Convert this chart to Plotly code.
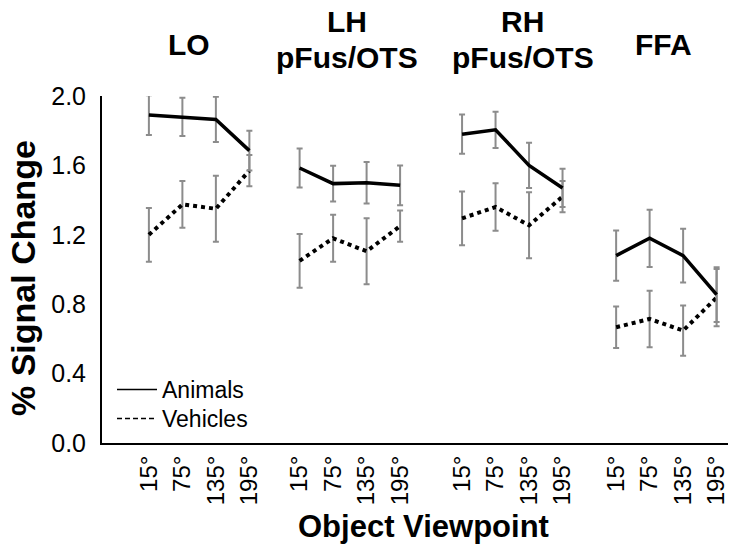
import plotly.graph_objects as go

# ---- data ----
regions = ["LO", "LH<br>pFus/OTS", "RH<br>pFus/OTS", "FFA"]
viewpoints = ["15°", "75°", "135°", "195°"]

animals_LO = [1.89, 1.88, 1.865, 1.685]
animals_LH = [1.585, 1.495, 1.50, 1.485]
animals_RH = [1.78, 1.805, 1.60, 1.47]
animals_FFA = [1.08, 1.18, 1.08, 0.855]

animals_err_LO = [0.115, 0.11, 0.13, 0.115]
animals_err_LH = [0.113, 0.103, 0.12, 0.115]
animals_err_RH = [0.113, 0.104, 0.13, 0.11]
animals_err_FFA = [0.145, 0.165, 0.155, 0.158]

vehicles_LO = [1.20, 1.375, 1.35, 1.57]
vehicles_LH = [1.05, 1.18, 1.105, 1.25]
vehicles_RH = [1.295, 1.36, 1.255, 1.42]
vehicles_FFA = [0.667, 0.715, 0.648, 0.838]

vehicles_err_LO = [0.155, 0.135, 0.19, 0.09]
vehicles_err_LH = [0.155, 0.135, 0.19, 0.09]
vehicles_err_RH = [0.155, 0.137, 0.19, 0.09]
vehicles_err_FFA = [0.12, 0.163, 0.145, 0.165]

y_ticks = [0.0, 0.4, 0.8, 1.2, 1.6, 2.0]

animals = [animals_LO, animals_LH, animals_RH, animals_FFA]
animals_err = [animals_err_LO, animals_err_LH, animals_err_RH, animals_err_FFA]
vehicles = [vehicles_LO, vehicles_LH, vehicles_RH, vehicles_FFA]
vehicles_err = [vehicles_err_LO, vehicles_err_LH, vehicles_err_RH, vehicles_err_FFA]

# ---- layout helpers ----
group_offsets = [0, 4.5, 9.35, 13.95]
FONT = "Liberation Sans, Arial, Helvetica, sans-serif"
ERR_COLOR = "#8c8c8c"

fig = go.Figure()
tickvals, ticktext = [], []
for g in range(4):
    xs = [group_offsets[g] + i for i in range(4)]
    tickvals += xs
    ticktext += viewpoints
    fig.add_trace(go.Scatter(
        x=xs, y=vehicles[g], mode="lines", showlegend=False,
        line=dict(color="black", width=4, dash="dot"),
        error_y=dict(type="data", array=vehicles_err[g], color=ERR_COLOR,
                     thickness=2, width=3)))
    fig.add_trace(go.Scatter(
        x=xs, y=animals[g], mode="lines", showlegend=False,
        line=dict(color="black", width=3.5),
        error_y=dict(type="data", array=animals_err[g], color=ERR_COLOR,
                     thickness=2, width=3)))

# legend-only traces
fig.add_trace(go.Scatter(x=[None], y=[None], mode="lines", name="Animals",
                         legend="legend",
                         line=dict(color="black", width=1.5)))
fig.add_trace(go.Scatter(x=[None], y=[None], mode="lines", name="Vehicles",
                         legend="legend2",
                         line=dict(color="black", width=1.5, dash="5px,3px")))

L, R, T, B = 102, 9, 96, 110
W, H = 737, 553
ph = H - T - B


def py(ypx):
    return (H - B - ypx) / ph


def px(xpx):
    return (xpx - L) / (W - L - R)


annotations = []
title_lines = [
    (189, 44, "LO"),
    (347, 21.5, "LH"), (347, 57.5, "pFus/OTS"),
    (522.5, 21.5, "RH"), (522.5, 57.5, "pFus/OTS"),
    (663, 44, "FFA"),
]
for xx, yy, txt in title_lines:
    annotations.append(dict(x=px(xx), y=py(yy), xref="paper", yref="paper",
                            text="<b>%s</b>" % txt, showarrow=False,
                            xanchor="center", yanchor="middle",
                            font=dict(family=FONT, size=30, color="black")))
annotations.append(dict(x=px(423), y=py(526), xref="paper", yref="paper",
                        text="<b>Object Viewpoint</b>", showarrow=False,
                        xanchor="center", yanchor="middle",
                        font=dict(family=FONT, size=31, color="black")))
annotations.append(dict(x=px(23), y=py(278), xref="paper", yref="paper",
                        text="<b>% Signal Change</b>", showarrow=False,
                        textangle=-90, xanchor="center", yanchor="middle",
                        font=dict(family=FONT, size=34, color="black")))

legend_style = dict(xanchor="left", yanchor="top", bgcolor="rgba(0,0,0,0)",
                    font=dict(family=FONT, size=23, color="black"),
                    itemwidth=40)

fig.update_layout(
    width=W, height=H,
    margin=dict(l=L, r=R, t=T, b=B, pad=0),
    plot_bgcolor="white", paper_bgcolor="white",
    font=dict(family=FONT, color="black"),
    showlegend=True,
    legend=dict(x=px(112), y=py(368), **legend_style),
    legend2=dict(x=px(112), y=py(397), **legend_style),
    annotations=annotations,
    xaxis=dict(range=[-1.4, 17.29], showgrid=False, zeroline=False,
               showline=True, linecolor="black", linewidth=2,
               tickmode="array", tickvals=tickvals, ticktext=ticktext,
               tickangle=-90, ticks="", ticklabelstandoff=1,
               tickfont=dict(family=FONT, size=24, color="black")),
    yaxis=dict(range=[0, 2.0], showgrid=False, zeroline=False,
               showline=True, linecolor="black", linewidth=2,
               tickmode="array", tickvals=y_ticks, tickformat=".1f",
               ticks="", ticklabelstandoff=9,
               tickfont=dict(family=FONT, size=25, color="black")),
)

fig.write_html("out.html",
               config={"displayModeBar": False},
               post_script="document.body.style.margin='0';"
                           "document.body.style.overflow='hidden';")
